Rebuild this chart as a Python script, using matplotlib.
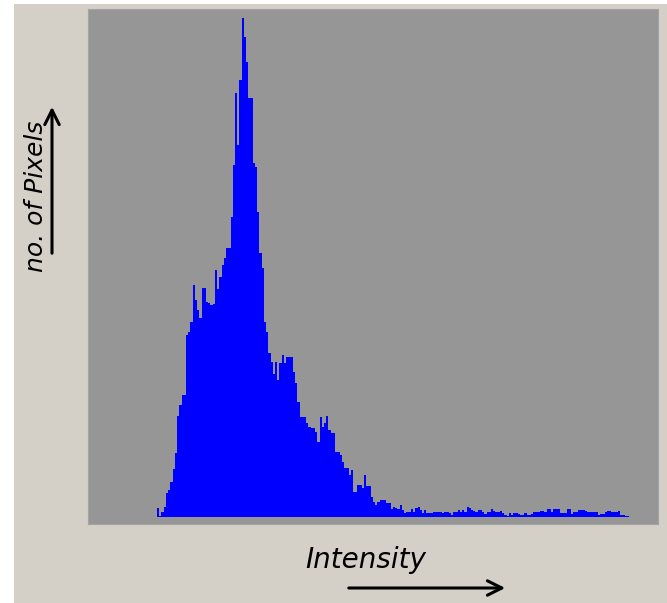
import numpy as np
import matplotlib
matplotlib.use("Agg")
import matplotlib.pyplot as plt
from matplotlib.patches import Rectangle

# histogram of grey levels (counts, arbitrary units)
first_level = 31
counts = [
    9, 1, 5, 10, 24, 27, 35, 48, 64,                      # 31-39
    101, 112, 122, 122, 182, 185, 195, 232, 217, 207,     # 40-49
    199, 229, 229, 215, 214, 212, 213, 247, 228, 240,     # 50-59
    252, 259, 269, 269, 300, 352, 424, 372, 437, 499,     # 60-69
    480, 455, 419, 419, 354, 350, 305, 264, 249, 195,     # 70-79
    185, 164, 155, 143, 155, 137, 154, 162, 154, 160,     # 80-89
    160, 160, 145, 134, 115, 100, 100, 100, 94, 90,       # 90-99
    89, 89, 85, 75, 100, 90, 94, 101, 87, 84,             # 100-109
    84, 65, 65, 62, 55, 49, 49, 42, 47, 25,               # 110-119
    25, 32, 32, 29, 42, 31, 31, 20, 15, 12,               # 120-129
    15, 17, 17, 17, 14, 14, 8, 10, 9, 8,                  # 130-139
    12, 7, 4, 5, 5, 8, 5, 9, 10, 7,                       # 140-149
    4, 7, 4, 4, 4, 5, 5, 5, 5, 4,                         # 150-159
    5, 5, 4, 2, 5, 5, 7, 5, 7, 5,                         # 160-169
    10, 9, 7, 6, 5, 7, 7, 5, 3, 5,                        # 170-179
    5, 8, 6, 5, 5, 6, 4, 2, 1, 4,                         # 180-189
    2, 4, 4, 3, 2, 2, 4, 2, 2, 3,                         # 190-199
    5, 5, 5, 6, 6, 5, 8, 8, 5, 8,                         # 200-209
    8, 8, 4, 4, 4, 8, 8, 3, 5, 5,                         # 210-219
    7, 7, 7, 6, 5, 5, 5, 5, 5, 2,                         # 220-229
    3, 3, 5, 6, 6, 5, 5, 5, 6, 2,                         # 230-239
    2, 1, 1,                                              # 240-242
]
levels = np.arange(first_level, first_level + len(counts))

x_label = "Intensity"
y_label = "no. of Pixels"

W, H = 667, 603
fig = plt.figure(figsize=(W / 100, H / 100), dpi=100, facecolor="white")

# beige panel behind everything
fig.add_artist(Rectangle((14 / W, 0), 1 - 14 / W, 1 - 4 / H,
                         transform=fig.transFigure, facecolor="#d4d0c8",
                         edgecolor="none", zorder=-10))

ax = fig.add_axes([88 / W, 1 - 524 / H, 570 / W, 515.5 / H])
ax.set_facecolor("#969696")
ax.bar(levels, counts, width=1.0, align="edge", color="#0000ff", linewidth=0)
ax.set_xlim(0, 256)
ax.set_ylim(-7, 508.5)
ax.set_xticks([])
ax.set_yticks([])
for s in ax.spines.values():
    s.set_color("#a4a4a4")
    s.set_linewidth(0.8)

# axis captions with arrows
fig.text(36 / W, 1 - 196 / H, y_label, rotation=90, ha="center", va="center",
         fontsize=18, style="italic", family="DejaVu Sans", color="black")
fig.text(366 / W, 1 - 560 / H, x_label, ha="center", va="center",
         fontsize=20, style="italic", family="DejaVu Sans", color="black")

arrow = dict(arrowstyle="->", lw=2.2, color="black", mutation_scale=26)
fig.add_artist(plt.Annotation("", xy=(52, H - 104), xytext=(52, H - 256),
                              xycoords="figure pixels", textcoords="figure pixels",
                              arrowprops=arrow))
fig.add_artist(plt.Annotation("", xy=(508, H - 588), xytext=(346, H - 588),
                              xycoords="figure pixels", textcoords="figure pixels",
                              arrowprops=arrow))

fig.savefig("out.png", dpi=100, facecolor=fig.get_facecolor())
